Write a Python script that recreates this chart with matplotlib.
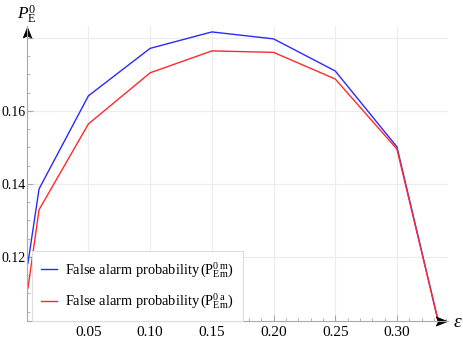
import numpy as np
import matplotlib
matplotlib.use("Agg")
import matplotlib.pyplot as plt
from matplotlib.path import Path
from matplotlib.ticker import MultipleLocator

plt.rcParams['font.family'] = ['Liberation Serif', 'DejaVu Serif']
plt.rcParams['mathtext.fontset'] = 'custom'
plt.rcParams['mathtext.rm'] = 'Liberation Serif'
plt.rcParams['mathtext.it'] = 'Liberation Serif:italic'

# data
eps = [0.001, 0.01, 0.05, 0.10, 0.15, 0.20, 0.25, 0.30, 1 / 3]
p_m = [0.1183, 0.1386, 0.1641, 0.1771, 0.1816, 0.1797, 0.1709, 0.1501, 0.1025]
p_a = [0.1114, 0.1329, 0.1564, 0.1704, 0.1764, 0.1760, 0.1687, 0.1495, 0.1025]
xticks = [0.05, 0.10, 0.15, 0.20, 0.25, 0.30]
xtick_labels = ['0.05', '0.10', '0.15', '0.20', '0.25', '0.30']
yticks = [0.12, 0.14, 0.16, 0.18]
ytick_labels = ['0.12', '0.14', '0.16', '']

fig = plt.figure(figsize=(4.63, 3.52), dpi=100)
ax = fig.add_axes([0.0577, 0.0889, 0.910, 0.837])

gray = '#a8a8a8'
ax.plot(eps, p_m, color='#2a2aff', lw=1.0, label=r'False alarm probability$\,(\mathrm{P}^{0\,\mathrm{m}}_{\mathrm{Em}})$')
ax.plot(eps, p_a, color='#ff2a2a', lw=1.0, label=r'False alarm probability$\,(\mathrm{P}^{0\,\mathrm{a}}_{\mathrm{Em}})$')

ax.set_xlim(0, 0.3414)
ax.set_ylim(0.1025, 0.1832)
ax.set_xticks(xticks, xtick_labels)
ax.set_yticks(yticks, ytick_labels)
ax.xaxis.set_minor_locator(MultipleLocator(0.01))
ax.yaxis.set_minor_locator(MultipleLocator(0.005))
ax.grid(True, which='major', color='#ececec', lw=0.8)
ax.set_axisbelow(True)

for s in ['top', 'right']:
    ax.spines[s].set_visible(False)
for s in ['left', 'bottom']:
    ax.spines[s].set_color(gray)
    ax.spines[s].set_linewidth(0.8)
ax.tick_params(which='both', direction='in', color=gray, labelsize=11)
ax.tick_params(which='major', length=4, width=0.8)
ax.tick_params(which='minor', length=2.5, width=0.6)
ax.tick_params(axis='y', pad=1, labelsize=10)
ax.tick_params(axis='x', pad=3.5)

# arrow heads at the ends of the axes
head_x = Path([(0, 0), (-1, 0.4), (-0.8, 0), (-1, -0.4), (0, 0)])
head_y = Path([(0, 0), (-0.4, -1), (0, -0.8), (0.4, -1), (0, 0)])
ax.plot([0.9975], [0], marker=head_x, ms=16, color='black', mew=0.6, transform=ax.transAxes, clip_on=False)
ax.plot([0], [0.996], marker=head_y, ms=15, color='black', mew=0.6, transform=ax.transAxes, clip_on=False)

fig.text(0.036, 0.944, r'$P_{\mathrm{E}}^{0}$', fontsize=12.5)
fig.text(0.979, 0.072, r'$\varepsilon$', fontsize=14)

leg = ax.legend(loc='lower left', bbox_to_anchor=(0.0125, 0.0), borderaxespad=0,
                fontsize=10.4, handlelength=1.1, handletextpad=0.55, fancybox=False,
                edgecolor='#dddddd', framealpha=1, labelspacing=0.85, borderpad=0.65)
leg.get_frame().set_linewidth(0.8)

fig.savefig('out.png', dpi=100)
